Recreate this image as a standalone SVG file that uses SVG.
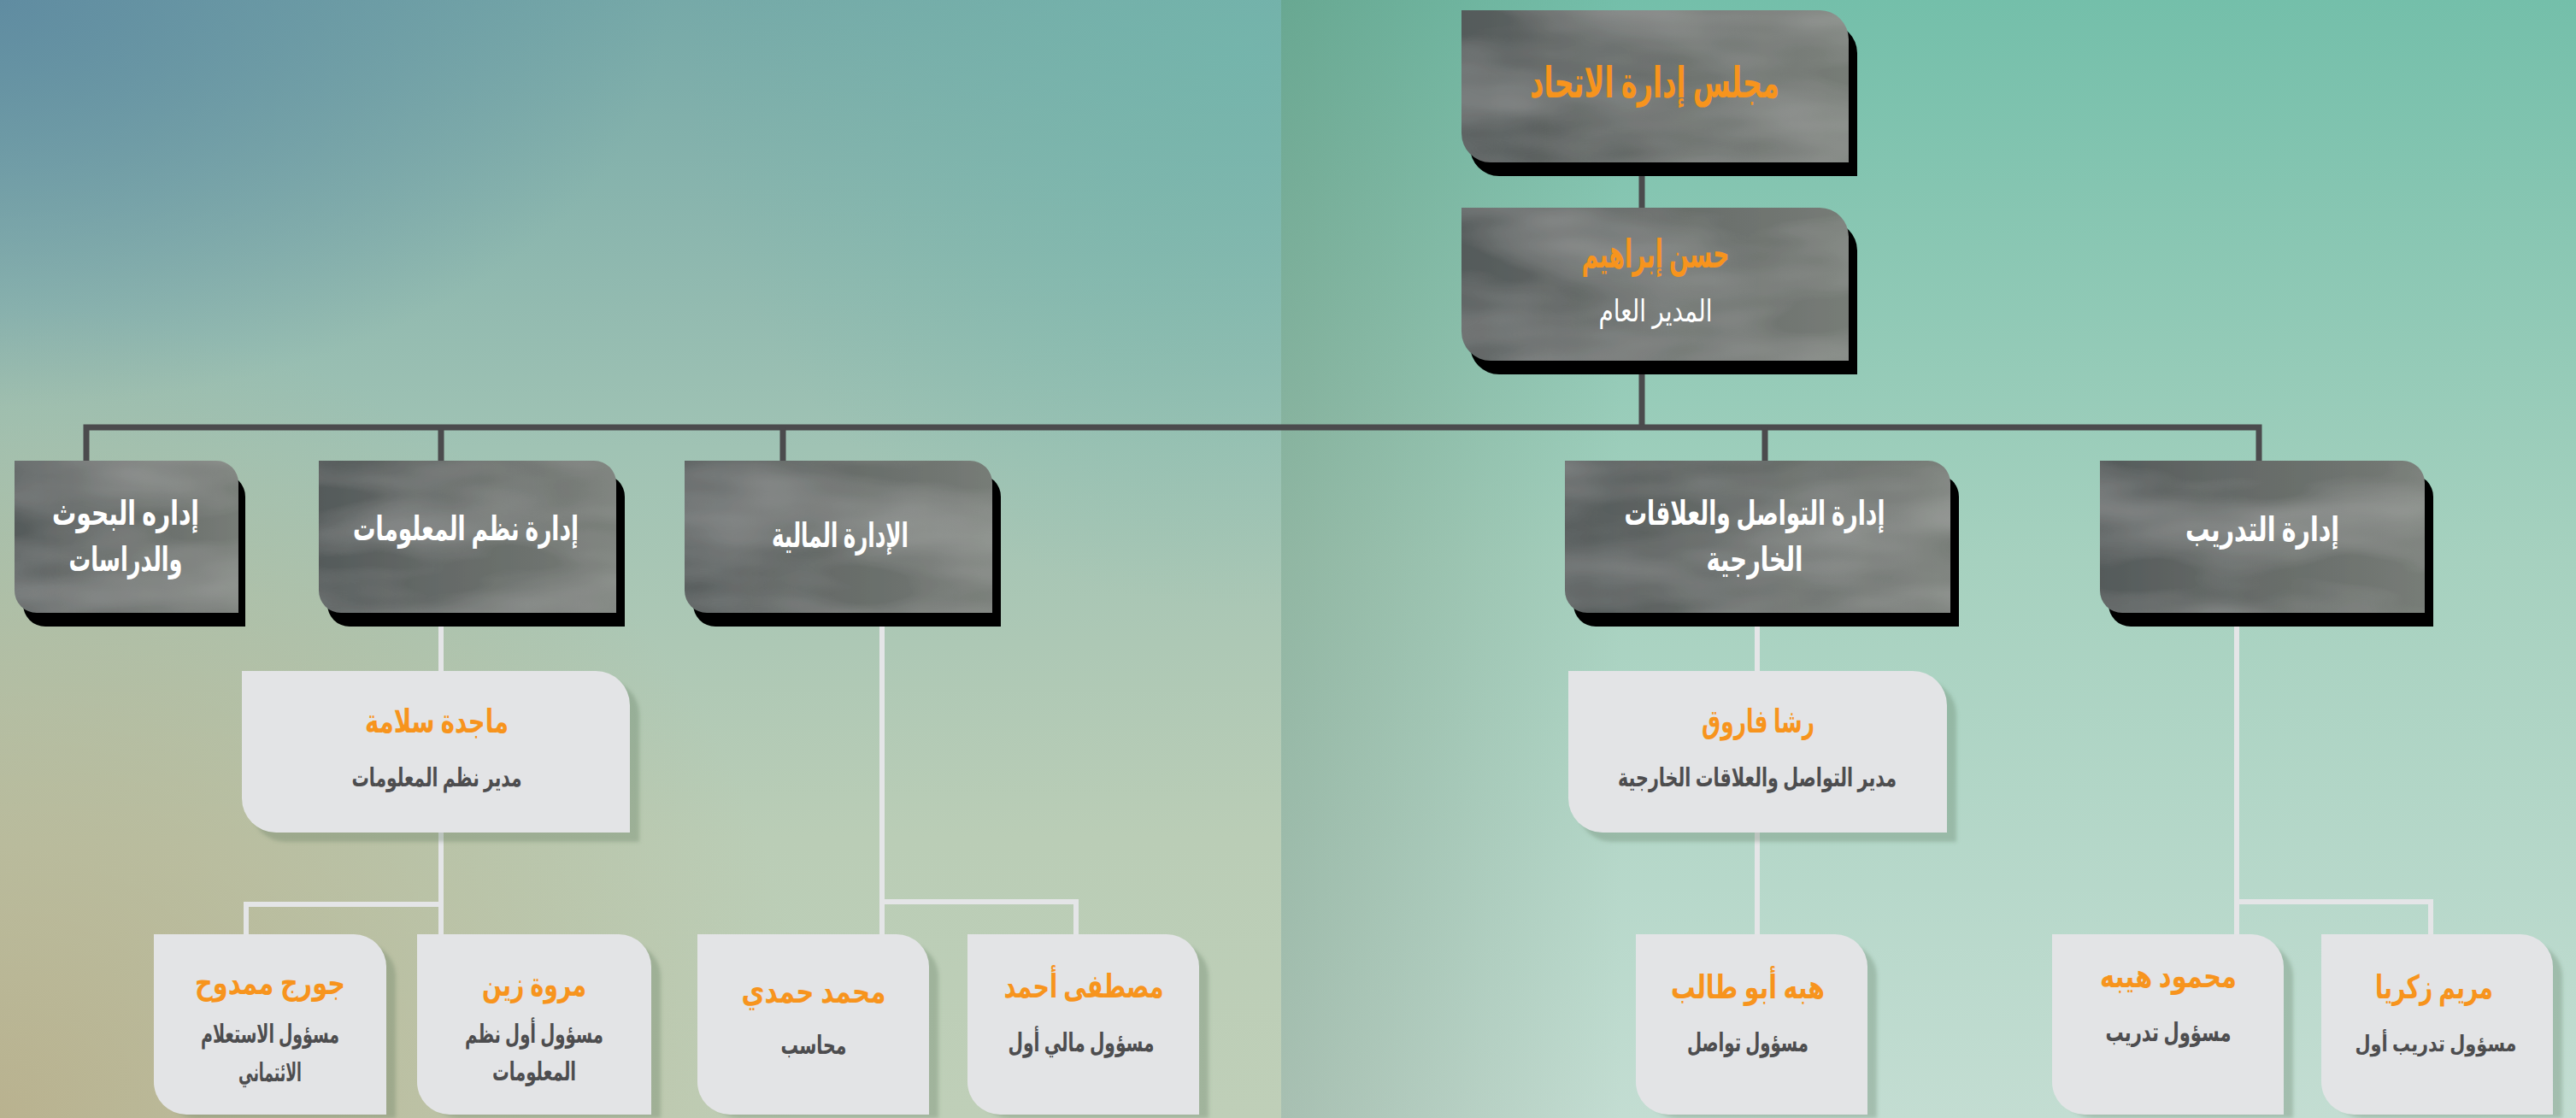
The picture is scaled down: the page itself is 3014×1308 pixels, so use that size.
<svg xmlns="http://www.w3.org/2000/svg" width="3014" height="1308" viewBox="0 0 3014 1308">
<defs>
  <linearGradient id="bgL" x1="0" y1="0" x2="0" y2="1">
    <stop offset="0" stop-color="#76a9a8"/>
    <stop offset="0.4" stop-color="#a0c3b4"/>
    <stop offset="0.75" stop-color="#bacdb6"/>
    <stop offset="1" stop-color="#bfcfb8"/>
  </linearGradient>
  <radialGradient id="bgLtl" cx="0" cy="0" r="560" gradientUnits="userSpaceOnUse" gradientTransform="scale(1.4 0.85)">
    <stop offset="0" stop-color="#5c87a0" stop-opacity="0.85"/>
    <stop offset="1" stop-color="#5c87a0" stop-opacity="0"/>
  </radialGradient>
  <radialGradient id="bgLbl" cx="0" cy="1308" r="950" gradientUnits="userSpaceOnUse">
    <stop offset="0" stop-color="#b8ad88" stop-opacity="0.85"/>
    <stop offset="1" stop-color="#b8ad88" stop-opacity="0"/>
  </radialGradient>
  <radialGradient id="bgLtr" cx="1450" cy="60" r="650" gradientUnits="userSpaceOnUse">
    <stop offset="0" stop-color="#72b8ac" stop-opacity="0.7"/>
    <stop offset="1" stop-color="#72b8ac" stop-opacity="0"/>
  </radialGradient>
  <linearGradient id="bgR" x1="0" y1="0" x2="0" y2="1">
    <stop offset="0" stop-color="#74bfaa"/>
    <stop offset="0.5" stop-color="#a6d1bf"/>
    <stop offset="1" stop-color="#c3ddd2"/>
  </linearGradient>
  <linearGradient id="bgRshade" x1="1499" y1="0" x2="1900" y2="0" gradientUnits="userSpaceOnUse">
    <stop offset="0" stop-color="#3a4a30" stop-opacity="0.2"/>
    <stop offset="1" stop-color="#3a4a30" stop-opacity="0"/>
  </linearGradient>
  <linearGradient id="slate" x1="0" y1="0" x2="1" y2="0">
    <stop offset="0" stop-color="#545a5a"/>
    <stop offset="0.35" stop-color="#636866"/>
    <stop offset="0.75" stop-color="#6e736f"/>
    <stop offset="1" stop-color="#777c77"/>
  </linearGradient>
  <filter id="tex" x="0" y="0" width="100%" height="100%">
    <feTurbulence type="fractalNoise" baseFrequency="0.004 0.014" numOctaves="3" seed="5" result="n"/>
    <feColorMatrix in="n" type="matrix" values="0 0 0 0 1  0 0 0 0 1  0 0 0 0 1  0.28 0 0 0 -0.09" result="w"/>
    <feComposite in="w" in2="SourceAlpha" operator="in" result="wm"/>
    <feMerge><feMergeNode in="SourceGraphic"/><feMergeNode in="wm"/></feMerge>
  </filter>
  <filter id="soft" x="-5%" y="-5%" width="110%" height="110%">
    <feGaussianBlur stdDeviation="2"/>
  </filter>
</defs>
<style>
  .slate { fill: url(#slate); filter: url(#tex); }
  .hard { fill: #000; }
  .light { fill: #e3e4e6; }
  .lsh { fill: #4f6a50; fill-opacity: 0.28; filter: url(#soft); }
  .dk { fill: none; stroke: #4b4b4d; stroke-width: 7; }
  .lt { fill: none; stroke: #e4e5e7; stroke-width: 6; }
  text { font-family: "Noto Sans", "DejaVu Sans", sans-serif; text-anchor: middle; direction: rtl; }
  .t1 { fill: #f7941d; font-size: 50px; font-weight: bold; }
  .t2 { fill: #ffffff; font-size: 36px; }
  .d { fill: #ffffff; font-size: 40px; font-weight: bold; }
  .n { fill: #f7941d; font-size: 38px; font-weight: bold; }
  .r { fill: #4d4d4f; font-size: 30px; font-weight: bold; }
</style>

<!-- background -->
<rect x="0" y="0" width="1499" height="1308" fill="url(#bgL)"/>
<rect x="0" y="0" width="1499" height="1308" fill="url(#bgLtl)"/>
<rect x="0" y="0" width="1499" height="1308" fill="url(#bgLbl)"/>
<rect x="0" y="0" width="1499" height="1308" fill="url(#bgLtr)"/>
<rect x="1499" y="0" width="1515" height="1308" fill="url(#bgR)"/>
<rect x="1499" y="0" width="1515" height="1308" fill="url(#bgRshade)"/>

<g id="connectors">
  <path class="dk" d="M1921,190 V243 M1921,422 V500"/>
  <path class="dk" d="M101,539 V500 H2643 V539"/>
  <path class="dk" d="M516,500 V539 M916,500 V539 M2065,500 V539"/>
  <path class="lt" d="M516,717 V1093 M516,1058 H288 V1093"/>
  <path class="lt" d="M1032,717 V1093 M1032,1055 H1259 V1093"/>
  <path class="lt" d="M2056,717 V1093"/>
  <path class="lt" d="M2617,717 V1093 M2617,1055 H2844 V1093"/>
</g>

<g id="board">
  <path class="hard" d="M1720,28 H2139 A34 34 0 0 1 2173,62 V206 H1754 A34 34 0 0 1 1720,172 Z"/>
  <path class="slate" d="M1710,12 H2129 A34 34 0 0 1 2163,46 V190 H1744 A34 34 0 0 1 1710,156 Z"/>
  <text class="t1" x="1936" y="114" textLength="292" lengthAdjust="spacingAndGlyphs">مجلس إدارة الاتحاد</text>
</g>

<g id="gm">
  <path class="hard" d="M1720,259 H2139 A34 34 0 0 1 2173,293 V438 H1754 A34 34 0 0 1 1720,404 Z"/>
  <path class="slate" d="M1710,243 H2129 A34 34 0 0 1 2163,277 V422 H1744 A34 34 0 0 1 1710,388 Z"/>
  <text class="t1" x="1937" y="313" style="font-size:46px" textLength="173" lengthAdjust="spacingAndGlyphs">حسن إبراهيم</text>
  <text class="t2" x="1937" y="376" textLength="133" lengthAdjust="spacingAndGlyphs">المدير العام</text>
</g>

<g id="research">
  <path class="hard" d="M27,555 H261 A26 26 0 0 1 287,581 V733 H53 A26 26 0 0 1 27,707 Z"/>
  <path class="slate" d="M17,539 H253 A26 26 0 0 1 279,565 V717 H43 A26 26 0 0 1 17,691 Z"/>
  <text class="d" x="147" y="614" textLength="172" lengthAdjust="spacingAndGlyphs">إداره البحوث</text>
  <text class="d" x="147" y="668" textLength="133" lengthAdjust="spacingAndGlyphs">والدراسات</text>
</g>

<g id="infosys">
  <path class="hard" d="M383,555 H705 A26 26 0 0 1 731,581 V733 H409 A26 26 0 0 1 383,707 Z"/>
  <path class="slate" d="M373,539 H695 A26 26 0 0 1 721,565 V717 H399 A26 26 0 0 1 373,691 Z"/>
  <text class="d" x="545" y="632" textLength="264" lengthAdjust="spacingAndGlyphs">إدارة نظم المعلومات</text>
</g>

<g id="finance">
  <path class="hard" d="M811,555 H1145 A26 26 0 0 1 1171,581 V733 H837 A26 26 0 0 1 811,707 Z"/>
  <path class="slate" d="M801,539 H1135 A26 26 0 0 1 1161,565 V717 H827 A26 26 0 0 1 801,691 Z"/>
  <text class="d" x="983" y="640" textLength="160" lengthAdjust="spacingAndGlyphs">الإدارة المالية</text>
</g>

<g id="comm">
  <path class="hard" d="M1841,555 H2266 A26 26 0 0 1 2292,581 V733 H1867 A26 26 0 0 1 1841,707 Z"/>
  <path class="slate" d="M1831,539 H2256 A26 26 0 0 1 2282,565 V717 H1857 A26 26 0 0 1 1831,691 Z"/>
  <text class="d" x="2053" y="614" textLength="305" lengthAdjust="spacingAndGlyphs">إدارة التواصل والعلاقات</text>
  <text class="d" x="2053" y="668" textLength="113" lengthAdjust="spacingAndGlyphs">الخارجية</text>
</g>

<g id="training">
  <path class="hard" d="M2467,555 H2821 A26 26 0 0 1 2847,581 V733 H2493 A26 26 0 0 1 2467,707 Z"/>
  <path class="slate" d="M2457,539 H2811 A26 26 0 0 1 2837,565 V717 H2483 A26 26 0 0 1 2457,691 Z"/>
  <text class="d" x="2647" y="633" textLength="180" lengthAdjust="spacingAndGlyphs">إدارة التدريب</text>
</g>

<g id="majda">
  <path class="lsh" d="M294,796 H708 A40 40 0 0 1 748,836 V985 H334 A40 40 0 0 1 294,945 Z"/>
  <path class="light" d="M283,785 H697 A40 40 0 0 1 737,825 V974 H323 A40 40 0 0 1 283,934 Z"/>
  <text class="n" x="511" y="857" textLength="168" lengthAdjust="spacingAndGlyphs">ماجدة سلامة</text>
  <text class="r" x="511" y="920" textLength="199" lengthAdjust="spacingAndGlyphs">مدير نظم المعلومات</text>
</g>

<g id="rasha">
  <path class="lsh" d="M1846,796 H2249 A40 40 0 0 1 2289,836 V985 H1886 A40 40 0 0 1 1846,945 Z"/>
  <path class="light" d="M1835,785 H2238 A40 40 0 0 1 2278,825 V974 H1875 A40 40 0 0 1 1835,934 Z"/>
  <text class="n" x="2057" y="857" textLength="132" lengthAdjust="spacingAndGlyphs">رشا فاروق</text>
  <text class="r" x="2056" y="920" textLength="326" lengthAdjust="spacingAndGlyphs">مدير التواصل والعلاقات الخارجية</text>
</g>

<g id="george">
  <path class="lsh" d="M191,1104 H425 A38 38 0 0 1 463,1142 V1308 H229 A38 38 0 0 1 191,1270 Z"/>
  <path class="light" d="M180,1093 H414 A38 38 0 0 1 452,1131 V1304 H218 A38 38 0 0 1 180,1266 Z"/>
  <text class="n" x="316" y="1163" textLength="176" lengthAdjust="spacingAndGlyphs">جورج ممدوح</text>
  <text class="r" x="316" y="1220" textLength="162" lengthAdjust="spacingAndGlyphs">مسؤول الاستعلام</text>
  <text class="r" x="316" y="1265" textLength="74" lengthAdjust="spacingAndGlyphs">الائتماني</text>
</g>

<g id="marwa">
  <path class="lsh" d="M499,1104 H735 A38 38 0 0 1 773,1142 V1308 H537 A38 38 0 0 1 499,1270 Z"/>
  <path class="light" d="M488,1093 H724 A38 38 0 0 1 762,1131 V1304 H526 A38 38 0 0 1 488,1266 Z"/>
  <text class="n" x="625" y="1165" textLength="122" lengthAdjust="spacingAndGlyphs">مروة زين</text>
  <text class="r" x="625" y="1220" textLength="162" lengthAdjust="spacingAndGlyphs">مسؤول أول نظم</text>
  <text class="r" x="625" y="1264" textLength="98" lengthAdjust="spacingAndGlyphs">المعلومات</text>
</g>

<g id="mohamed">
  <path class="lsh" d="M827,1104 H1060 A38 38 0 0 1 1098,1142 V1308 H865 A38 38 0 0 1 827,1270 Z"/>
  <path class="light" d="M816,1093 H1049 A38 38 0 0 1 1087,1131 V1304 H854 A38 38 0 0 1 816,1266 Z"/>
  <text class="n" x="952" y="1173" textLength="169" lengthAdjust="spacingAndGlyphs">محمد حمدي</text>
  <text class="r" x="952" y="1233" textLength="77" lengthAdjust="spacingAndGlyphs">محاسب</text>
</g>

<g id="mostafa">
  <path class="lsh" d="M1143,1104 H1376 A38 38 0 0 1 1414,1142 V1308 H1181 A38 38 0 0 1 1143,1270 Z"/>
  <path class="light" d="M1132,1093 H1365 A38 38 0 0 1 1403,1131 V1304 H1170 A38 38 0 0 1 1132,1266 Z"/>
  <text class="n" x="1268" y="1167" textLength="187" lengthAdjust="spacingAndGlyphs">مصطفى أحمد</text>
  <text class="r" x="1265" y="1230" textLength="171" lengthAdjust="spacingAndGlyphs">مسؤول مالي أول</text>
</g>

<g id="heba">
  <path class="lsh" d="M1925,1104 H2158 A38 38 0 0 1 2196,1142 V1308 H1963 A38 38 0 0 1 1925,1270 Z"/>
  <path class="light" d="M1914,1093 H2147 A38 38 0 0 1 2185,1131 V1304 H1952 A38 38 0 0 1 1914,1266 Z"/>
  <text class="n" x="2045" y="1168" textLength="180" lengthAdjust="spacingAndGlyphs">هبه أبو طالب</text>
  <text class="r" x="2045" y="1230" textLength="142" lengthAdjust="spacingAndGlyphs">مسؤول تواصل</text>
</g>

<g id="mahmoud">
  <path class="lsh" d="M2412,1104 H2645 A38 38 0 0 1 2683,1142 V1308 H2450 A38 38 0 0 1 2412,1270 Z"/>
  <path class="light" d="M2401,1093 H2634 A38 38 0 0 1 2672,1131 V1304 H2439 A38 38 0 0 1 2401,1266 Z"/>
  <text class="n" x="2537" y="1155" textLength="160" lengthAdjust="spacingAndGlyphs">محمود هيبه</text>
  <text class="r" x="2537" y="1218" textLength="147" lengthAdjust="spacingAndGlyphs">مسؤول تدريب</text>
</g>

<g id="mariam">
  <path class="lsh" d="M2727,1104 H2960 A38 38 0 0 1 2998,1142 V1308 H2765 A38 38 0 0 1 2727,1270 Z"/>
  <path class="light" d="M2716,1093 H2949 A38 38 0 0 1 2987,1131 V1304 H2754 A38 38 0 0 1 2716,1266 Z"/>
  <text class="n" x="2848" y="1168" textLength="138" lengthAdjust="spacingAndGlyphs">مريم زكريا</text>
  <text class="r" x="2850" y="1230" style="font-size:26px" textLength="189" lengthAdjust="spacingAndGlyphs">مسؤول تدريب أول</text>
</g>
</svg>
